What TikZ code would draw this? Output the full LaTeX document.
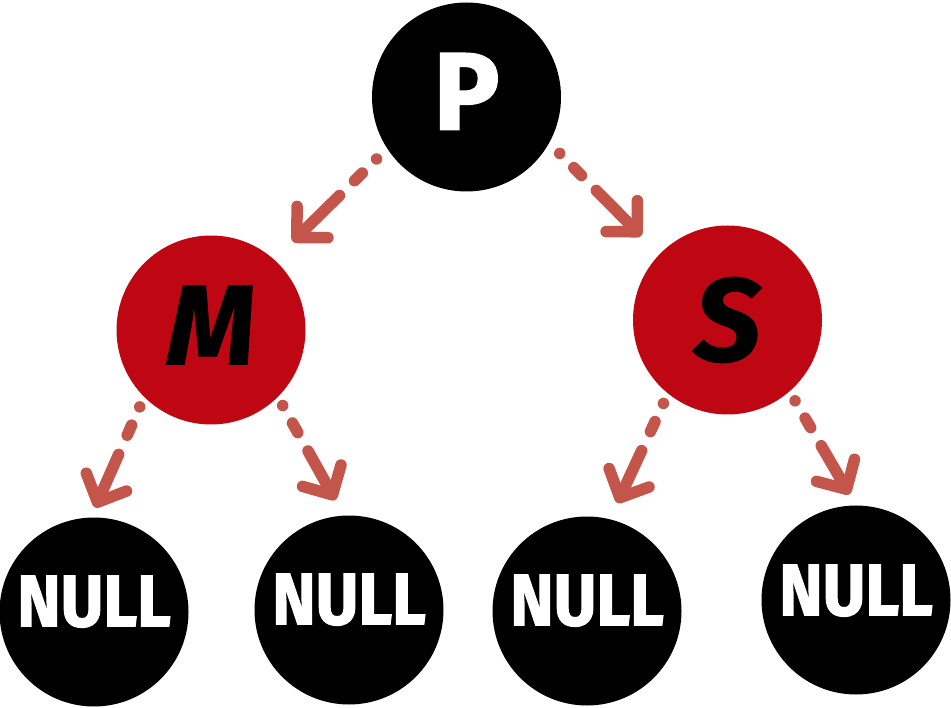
\documentclass[tikz,border=0pt]{standalone}
\usepackage{fontspec}
\setmainfont{Fira Sans}[BoldFeatures={FakeBold=1.6}, BoldItalicFeatures={FakeBold=0.8}]
\newfontfamily\nullface{Fira Sans}[UprightFeatures={FakeBold=1.6, FakeStretch=0.9}, BoldFeatures={FakeBold=1.6, FakeStretch=0.9}]
\usetikzlibrary{arrows.meta}
\definecolor{nodered}{HTML}{BE0712}
\definecolor{arrowred}{HTML}{C4554A}
\tikzset{
	vertex/.style={circle, minimum size=189pt, inner sep=0pt, outer sep=0pt},
	blackv/.style={vertex, fill=black, text=white},
	redv/.style={vertex, fill=nodered, text=black},
	link/.style={arrowred, line width=11.5pt, line cap=round,
		dash pattern=on 0pt off 20pt on 11pt off 21pt on 2000pt,
		-{Straight Barb[length=22pt, width=44pt, round]}},
}
\begin{document}
\begin{tikzpicture}[x=1pt, y=-1pt]
		\useasboundingbox (0, 0) rectangle (951, 708);
		\begin{scope}[every node/.append style={font=\nullface\bfseries\fontsize{73}{73}\selectfont}]
			\node[blackv, text depth=11pt, font=\bfseries\fontsize{110}{110}\selectfont] (p) at (466.5, 97) {P};
			\node[redv, text depth=10pt, font=\bfseries\itshape\fontsize{114}{114}\selectfont] (m) at (211, 330) {M};
			\node[redv, text depth=2pt, font=\bfseries\itshape\fontsize{118}{118}\selectfont] (s) at (727.5, 320) {S};
			\node[blackv, text depth=22pt] (n1) at (94, 612) {NULL};
			\node[blackv, text depth=22pt] (n2) at (349, 610) {NULL};
			\node[blackv, text depth=22pt] (n3) at (587, 611) {NULL};
			\node[blackv, text depth=20pt] (n4) at (856, 600) {NULL};
		\end{scope}

		\draw [link, shorten <=15pt, shorten >=26pt] (p.213) -- (m.48);
		\draw [link, shorten <=15pt, shorten >=26pt] (p.331) -- (s.136);
		\draw [link, shorten <=11pt, shorten >=11pt] (m.225) -- (n1.92);
		\draw [link, shorten <=10pt, shorten >=18pt] (m.315) -- (n2.93);
		\draw [link, shorten <=11pt, shorten >=18pt] (s.231) -- (n3.76);
		\draw [link, shorten <=11pt, shorten >=13pt] (s.311) -- (n4.90);
	\end{tikzpicture}
\end{document}
